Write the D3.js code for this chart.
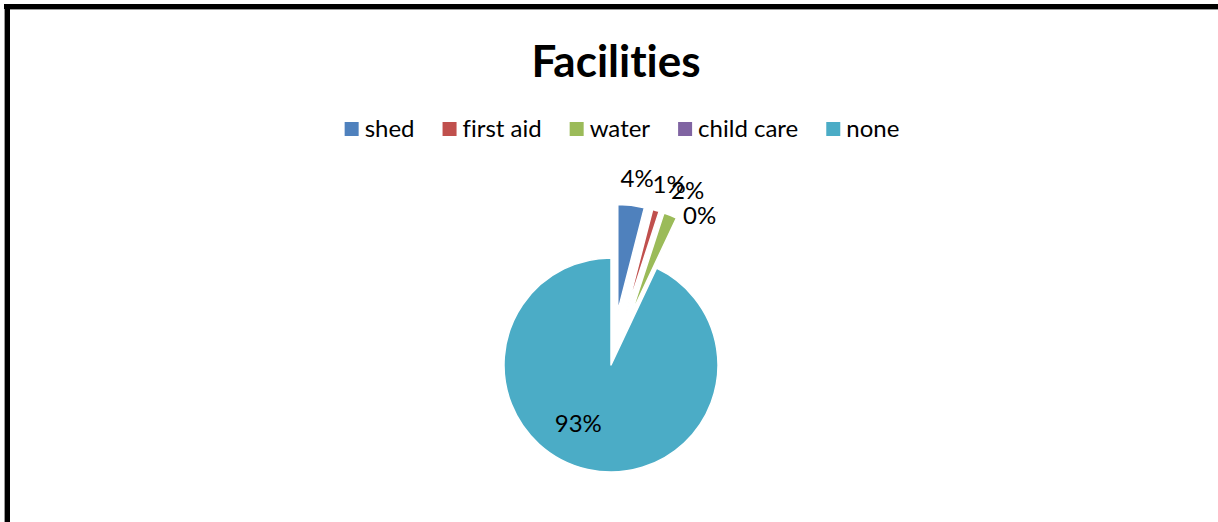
<!DOCTYPE html>
<html>
<head>
<meta charset="utf-8">
<script src="https://cdn.jsdelivr.net/npm/d3@7"></script>
<style>
  html, body { margin: 0; padding: 0; background: #ffffff; }
  svg { display: block; }
  text { font-variant-ligatures: none; font-feature-settings: "liga" 0, "clig" 0; }
</style>
</head>
<body>
<svg id="chart" width="1218" height="522"></svg>
<script>
// Facilities survey: share of respondents per facility available
const categories = ["shed", "first aid", "water", "child care", "none"];
const shares = [4, 1, 2, 0, 93];
const sliceColors = ["#4F81BD", "#C0504D", "#9BBB59", "#8064A2", "#4BACC6"];
const chartTitle = "Facilities";

const W = 1218, H = 522;
const FONT = "Lato, 'Open Sans', 'Liberation Sans', sans-serif";
const svg = d3.select("#chart");

// frame: heavy rule on top and left side
svg.append("rect").attr("x", 4).attr("y", 4).attr("width", 1).attr("height", H - 4).attr("fill", "#9a9a9a");
svg.append("rect").attr("x", 5).attr("y", 4).attr("width", 5).attr("height", H - 4).attr("fill", "#000");
svg.append("rect").attr("x", 4).attr("y", 4).attr("width", W - 4).attr("height", 5).attr("fill", "#000");
svg.append("rect").attr("x", 10).attr("y", 9).attr("width", W - 10).attr("height", 1).attr("fill", "#9a9a9a");

// title
svg.append("text")
  .attr("x", 616).attr("y", 77)
  .attr("text-anchor", "middle")
  .attr("font-family", FONT).attr("font-weight", 700).attr("font-size", 44)
  .attr("fill", "#000")
  .text(chartTitle);

// legend, centred as a row
const legendFont = 24, swatch = 14, swatchGap = 6, itemGap = 28, legendCx = 622, legendBase = 137;
const legend = svg.append("g");
const items = legend.selectAll("g").data(categories).join("g");
items.append("rect")
  .attr("width", swatch).attr("height", swatch)
  .attr("y", legendBase - 15)
  .attr("fill", (d, i) => sliceColors[i]);
items.append("text")
  .attr("x", swatch + swatchGap).attr("y", legendBase)
  .attr("font-family", FONT).attr("font-size", legendFont).attr("fill", "#000")
  .text(d => d);
let cursor = 0;
const offsets = [];
items.each(function () {
  offsets.push(cursor);
  const tw = d3.select(this).select("text").node().getComputedTextLength();
  cursor += swatch + swatchGap + tw + itemGap;
});
const legendWidth = cursor - itemGap;
items.attr("transform", (d, i) => `translate(${legendCx - legendWidth / 2 + offsets[i]},0)`);

// pie
const cx = 611, cy = 365, radius = 107, explode = 54, labelFont = 24;
const data = categories.map((c, i) => ({ name: c, value: shares[i], color: sliceColors[i] }));
const pie = d3.pie().sort(null).value(d => d.value).startAngle(0).endAngle(2 * Math.PI);
const arcs = pie(data);
const arc = d3.arc().innerRadius(0).outerRadius(radius);
const pieG = svg.append("g").attr("transform", `translate(${cx},${cy})`);

const isLargest = d => d.data.value === d3.max(shares);
const shift = d => {
  if (isLargest(d)) return [0, 0];
  const m = (d.startAngle + d.endAngle) / 2;
  return [Math.sin(m) * explode, -Math.cos(m) * explode];
};

pieG.selectAll("path.slice").data(arcs).join("path")
  .attr("class", "slice")
  .attr("d", arc)
  .attr("transform", d => `translate(${shift(d)})`)
  .attr("fill", d => d.data.color)
  .attr("stroke", "#ffffff")
  .attr("stroke-width", 1.5)
  .attr("stroke-linejoin", "round");

// value labels: outside the exploded slices, inside for the largest one
const labelG = pieG.append("g")
  .attr("font-family", FONT).attr("font-size", labelFont).attr("fill", "#000")
  .attr("text-anchor", "middle");
const labelH = 21;
let prev = null;
arcs.forEach(d => {
  const txt = labelG.append("text").attr("dy", "0.35em").text(d3.format(".0f")(d.data.value) + "%");
  const w = txt.node().getComputedTextLength();
  const m = (d.startAngle + d.endAngle) / 2;
  let x, y;
  if (isLargest(d)) {
    const r = radius * 0.63;
    x = Math.sin(m) * r - 18;
    y = -Math.cos(m) * r - 7;
  } else {
    const [sx, sy] = shift(d);
    const r = radius + 14;
    x = sx + Math.sin(m) * r + w * Math.sin(m);
    y = sy - Math.cos(m) * r - (labelH / 2) * Math.cos(m) - 2;
    // an empty slice would sit on its neighbour's label, so drop it one line
    if (d.data.value === 0 && prev) y = Math.max(y, prev[1] + labelH + 4);
    prev = [x, y];
  }
  txt.attr("x", x).attr("y", y);
});
</script>
</body>
</html>
